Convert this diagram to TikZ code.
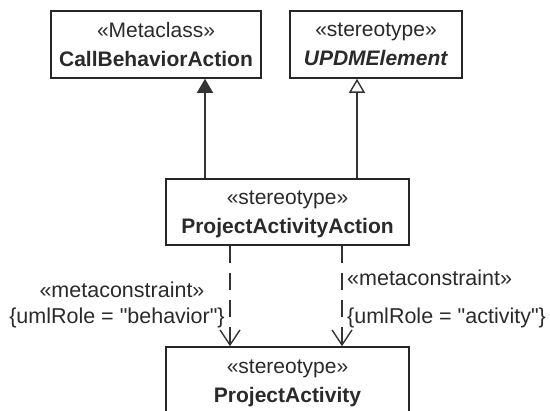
\documentclass[tikz,border=0pt]{standalone}
\usepackage{fontspec}
\setmainfont{Liberation Sans}
\usepackage{tikz}
\usetikzlibrary{calc,arrows.meta}

\definecolor{umlline}{HTML}{333333}
\definecolor{umltext}{HTML}{2A2A2A}

\begin{document}
\begin{tikzpicture}[x=1pt, y=-1pt, >=Stealth,
    umlbox/.style={draw=black!85, line width=1.6pt, fill=white, align=center,
        inner sep=0pt, text=umltext, font=\fontsize{21}{29}\selectfont},
    extends/.style={draw=umlline, line width=1.4pt,
        -{Triangle[length=14pt, width=16pt, fill=umlline]}},
    generalizes/.style={draw=umlline, line width=1.4pt,
        -{Triangle[open, length=14pt, width=16pt, fill=white]}},
    depends/.style={draw=umlline, line width=1.4pt, dash pattern=on 17pt off 10pt,
        -{Straight Barb[length=15pt, width=20pt]}},
    tag/.style={inner sep=0pt, text=umltext, font=\fontsize{21.5}{25}\selectfont}]
        \useasboundingbox (0,0) rectangle (550,411);

        % Metaclass and base stereotype
        \node[umlbox, minimum width=210pt, minimum height=67pt] (callbeh) at (156,44.5)
            {«Metaclass»\\\textbf{CallBehaviorAction}};
        \node[umlbox, minimum width=172pt, minimum height=67pt] (updm) at (376,44.5)
            {«stereotype»\\\textbf{\textit{UPDMElement}}};

        % Stereotypes
        \node[umlbox, minimum width=243pt, minimum height=66pt] (paction) at (287.5,212)
            {«stereotype»\\\smash{\textbf{ProjectActivityAction}}};
        \node[umlbox, minimum width=243pt, minimum height=72pt] (pactivity) at (287.5,383)
            {«stereotype»\\\textbf{ProjectActivity}};

        % Extension and generalization
        \draw[extends] (paction.north -| 205,0) -- (callbeh.south -| 205,0);
        \draw[generalizes] (paction.north -| 357,0) -- (updm.south -| 357,0);

        % Metaconstraints
        \draw[depends] (paction.south -| 230,0) -- (pactivity.north -| 230,0);
        \draw[depends] (paction.south -| 342,0) -- (pactivity.north -| 342,0);

        % Constraint labels
        \node[tag] (lefttag) at (122,290) {«metaconstraint»};
        \node[tag] (leftrole) at (117,318) {\{umlRole = \textquotedbl behavior\textquotedbl\}};
        \node[tag, anchor=west] (righttag) at (347,278) {«metaconstraint»};
        \node[tag, anchor=west] (rightrole) at (347,318) {\{umlRole = \textquotedbl activity\textquotedbl\}};
    \end{tikzpicture}
\end{document}
